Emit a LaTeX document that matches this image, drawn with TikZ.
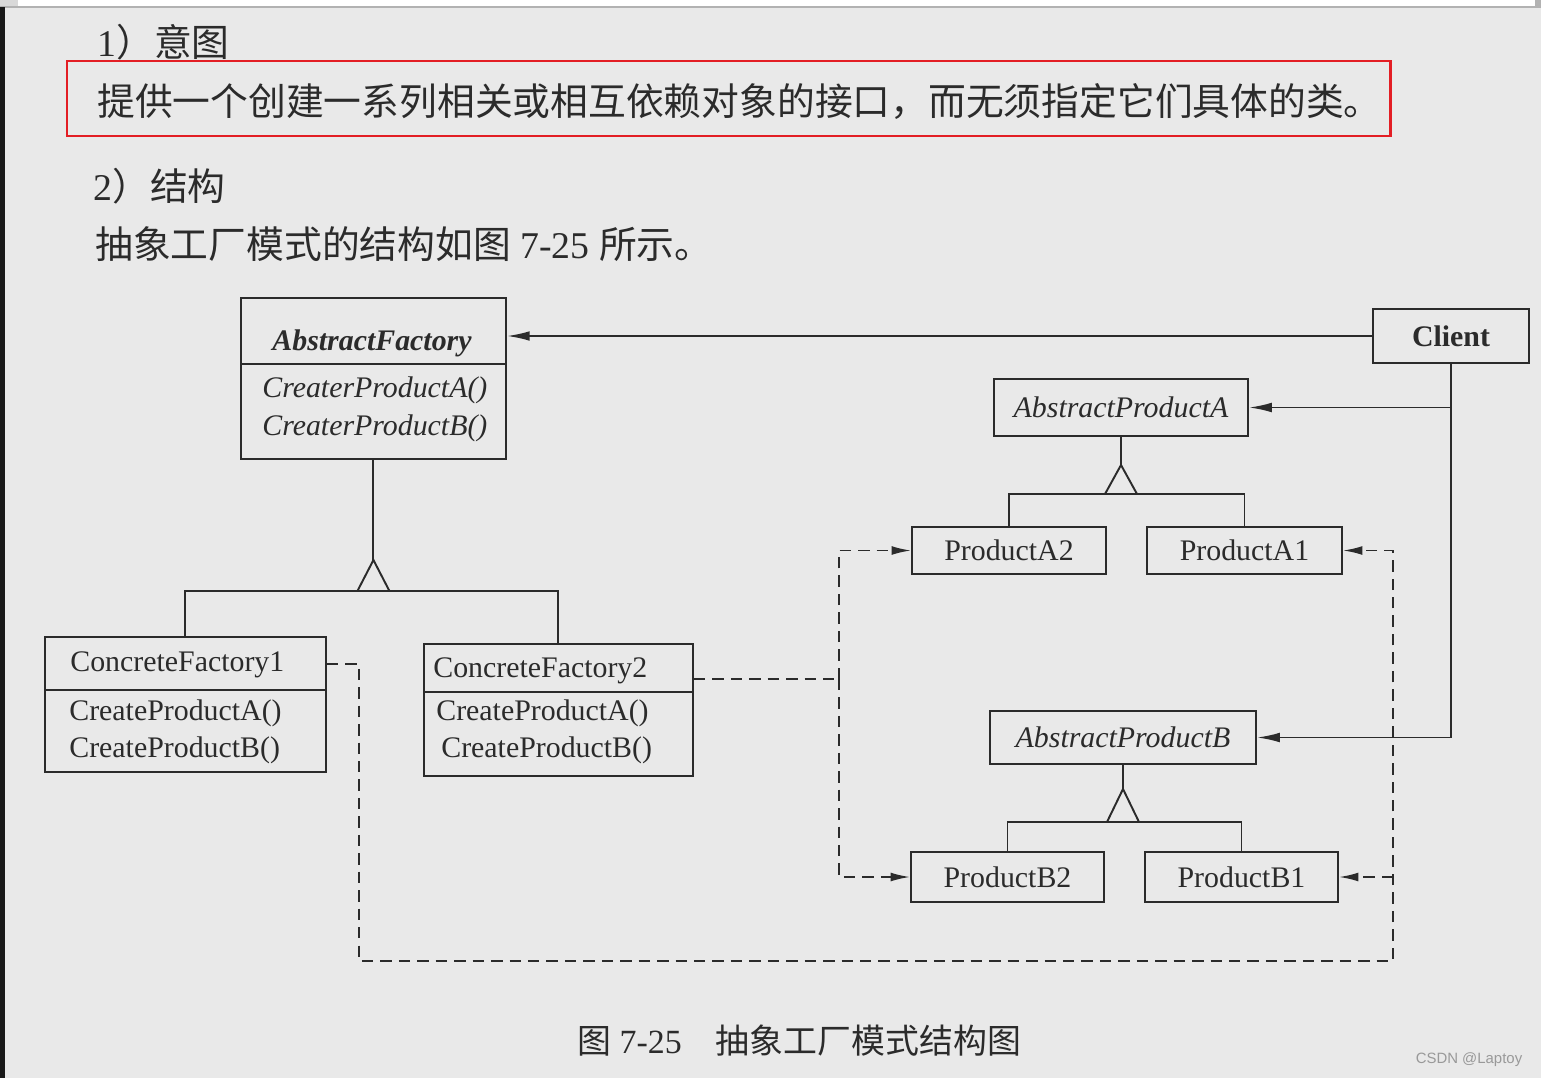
\documentclass[tikz,border=0pt]{standalone}
\usepackage{fontspec}
\setmainfont{Liberation Serif}
\newfontfamily\cjk{Noto Sans CJK SC}
\newfontfamily\wmfont{Liberation Sans}
\usetikzlibrary{arrows.meta,calc}
\definecolor{pagebg}{HTML}{E9E9E9}
\definecolor{ink}{HTML}{2B2B2B}
\definecolor{markred}{HTML}{E31E24}

\begin{document}
\begin{tikzpicture}[x=0.02cm,y=-0.02cm,
    box/.style={draw=ink,line width=1.1pt,inner sep=0pt,text=ink,font=\fontsize{17}{20}\selectfont},
    lbl/.style={inner sep=0pt,text=ink,font=\fontsize{17}{20}\selectfont},
    link/.style={draw=ink,line width=1.1pt},
    arr/.style={-{Latex[length=13pt,width=5.5pt]}},
    darr/.style={-{Latex[length=11pt,width=5pt]}},
    dsh/.style={draw=ink,line width=1pt,dash pattern=on 6.5pt off 4pt},
    hd/.style={inner sep=0pt,anchor=west,text=ink,font=\fontsize{21.5}{26}\selectfont}]
            \useasboundingbox (0,0) rectangle (1541,1078);
            \fill[pagebg] (0,0) rectangle (1541,1078);
            \fill[white] (0,0) rectangle (1541,7);
            \fill[black!15] (0,0) rectangle (18,7);
            \fill[black!30] (1535,0) rectangle (1541,7);
            \draw[black!30,line width=1pt] (0,7) -- (1541,7);
            \fill[black!90] (0,7) rectangle (5,1078);
            % text above the diagram
            \node[hd] (h1) at (97,42) {1{\cjk ）意图}};
            \node[hd] (intent) at (97,102) {\cjk 提供一个创建一系列相关或相互依赖对象的接口，而无须指定它们具体的类。};
            \draw[markred,line width=1.7pt] (67,61) rectangle (1390,136);
            \node[hd] (h2) at (93,186) {2{\cjk ）结构}};
            \node[hd] (h2text) at (95,244) {{\cjk 抽象工厂模式的结构如图} 7-25 {\cjk 所示。}};
            % classes
            \node[box,anchor=north west,minimum width=5.3cm,minimum height=3.22cm] (af) at (240,297) {};
            \draw[link] (af.west |- 0,364) -- (af.east |- 0,364);
            \node[lbl,anchor=base] (afname) at (372,350) {\bfseries\itshape AbstractFactory};
            \node[lbl,anchor=base west] (afopa) at (262,397) {\itshape CreaterProductA()};
            \node[lbl,anchor=base west] (afopb) at (262,435) {\itshape CreaterProductB()};
            \node[box,minimum width=3.12cm,minimum height=1.08cm] (client) at (1451,336) {\bfseries Client};
            \node[box,minimum width=5.08cm,minimum height=1.14cm] (apa) at (1121,407.5) {\itshape AbstractProductA};
            \node[box,minimum width=3.88cm,minimum height=0.94cm] (pa2) at (1009,550.5) {ProductA2};
            \node[box,minimum width=3.9cm,minimum height=0.94cm] (pa1) at (1244.5,550.5) {ProductA1};
            \node[box,minimum width=5.32cm,minimum height=1.06cm] (apb) at (1123,737.5) {\itshape AbstractProductB};
            \node[box,minimum width=3.86cm,minimum height=1cm] (pb2) at (1007.5,877) {ProductB2};
            \node[box,minimum width=3.86cm,minimum height=1cm] (pb1) at (1241.5,877) {ProductB1};
            \node[box,anchor=north west,minimum width=5.62cm,minimum height=2.7cm] (cf1) at (44,636) {};
            \draw[link] (cf1.west |- 0,690) -- (cf1.east |- 0,690);
            \node[lbl,anchor=base west] (cf1name) at (70,671) {ConcreteFactory1};
            \node[lbl,anchor=base west] (cf1opa) at (69,720) {CreateProductA()};
            \node[lbl,anchor=base west] (cf1opb) at (69,757) {CreateProductB()};
            \node[box,anchor=north west,minimum width=5.38cm,minimum height=2.64cm] (cf2) at (423,643) {};
            \draw[link] (cf2.west |- 0,692) -- (cf2.east |- 0,692);
            \node[lbl,anchor=base west] (cf2name) at (433,677) {ConcreteFactory2};
            \node[lbl,anchor=base west] (cf2opa) at (436,720) {CreateProductA()};
            \node[lbl,anchor=base west] (cf2opb) at (441,757) {CreateProductB()};
            % inheritance
            \coordinate (afTip) at (af.south |- 0,560);
            \draw[link] (af.south) -- (afTip);
            \draw[link,fill=pagebg] (afTip) -- ++(-16,31) -- ++(32,0) -- cycle;
            \draw[link] (cf1.north) |- ($(afTip)+(0,31)$) -| (cf2.north);
            \coordinate (apaTip) at (apa.south |- 0,465);
            \draw[link] (apa.south) -- (apaTip);
            \draw[link,fill=pagebg] (apaTip) -- ++(-16,29) -- ++(32,0) -- cycle;
            \draw[link] (pa2.north) |- ($(apaTip)+(0,29)$) -| (pa1.north);
            \coordinate (apbTip) at (apb.south |- 0,789);
            \draw[link] (apb.south) -- (apbTip);
            \draw[link,fill=pagebg] (apbTip) -- ++(-16,33) -- ++(32,0) -- cycle;
            \draw[link] (pb2.north) |- ($(apbTip)+(0,33)$) -| (pb1.north);
            % client uses
            \draw[link,arr] (client.west) -- (client.west -| af.east);
            \draw[link,arr] (client.south) |- (apa.east);
            \draw[link,arr] (client.south) |- (apb.east);
            % creates (dashed)
            \coordinate (cf1out) at ($(cf1.north east)+(0,28)$);
            \coordinate (busL) at (359,961);
            \coordinate (busR) at (1393,961);
            \draw[dsh,darr] (cf1out) -| (busL) -- (busR) |- (pa1.east);
            \draw[dsh,darr] (busR |- pb1.east) -- (pb1.east);
            \coordinate (cf2out) at ($(cf2.north east)+(0,36)$);
            \coordinate (busM) at (cf2out -| 839,0);
            \draw[dsh] (cf2out) -- (busM);
            \draw[dsh,darr] (busM) |- (pa2.west);
            \draw[dsh,darr] (busM) |- (pb2.west);
            % caption
            \node[anchor=west,inner sep=0pt,text=ink,font=\fontsize{19.3}{23}\selectfont] (cap) at (577,1041) {{\cjk 图} 7-25{\cjk 　抽象工厂模式结构图}};
            \node[text=black!40,font=\wmfont\fontsize{8.5}{10}\selectfont] (wm) at (1469,1060) {CSDN @Laptoy};
        \end{tikzpicture}
\end{document}
